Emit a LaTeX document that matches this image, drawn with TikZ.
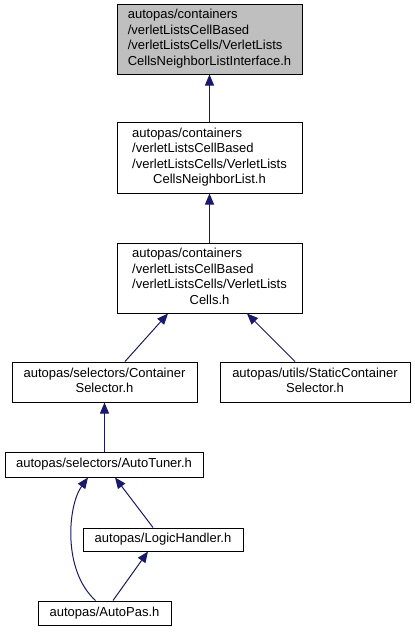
\documentclass[tikz,border=0pt]{standalone}
\usepackage{fontspec}
\setmainfont{Liberation Sans}
\usetikzlibrary{arrows.meta, positioning}
\definecolor{edgeblue}{HTML}{191970}
\definecolor{curgray}{HTML}{BFBFBF}

\begin{document}
\begin{tikzpicture}[x=1pt, y=-1pt,
    file/.style={draw=black, line width=1pt, fill=white, inner sep=0pt, anchor=center,
                 font=\fontsize{13}{15.5}\selectfont},
    dep/.style={draw=edgeblue, line width=1pt, {Triangle[length=11pt, width=9pt]}-}]
\useasboundingbox (0,0) rectangle (415,632);

\node[file, fill=curgray, minimum width=185pt, minimum height=70pt] (iface) at (209.5,39)
    {\begin{tabular}{@{}l@{}}autopas/containers\\/verletListsCellBased\\/verletListsCells/VerletLists\\CellsNeighborListInterface.h\end{tabular}};
\node[file, minimum width=185pt, minimum height=71pt] (nblist) at (209.5,157.5)
    {\begin{tabular}{@{}l@{}}autopas/containers\\/verletListsCellBased\\/verletListsCells/VerletLists\\\multicolumn{1}{@{}c@{}}{CellsNeighborList.h}\end{tabular}};
\node[file, minimum width=185pt, minimum height=70pt] (vlcells) at (209.5,278)
    {\begin{tabular}{@{}l@{}}autopas/containers\\/verletListsCellBased\\/verletListsCells/VerletLists\\\multicolumn{1}{@{}c@{}}{Cells.h}\end{tabular}};
\node[file, minimum width=185pt, minimum height=40pt] (csel) at (104.5,382)
    {\begin{tabular}{@{}l@{}}autopas/selectors/Container\\\multicolumn{1}{@{}c@{}}{Selector.h}\end{tabular}};
\node[file, minimum width=190pt, minimum height=40pt] (scsel) at (315,382)
    {\begin{tabular}{@{}l@{}}autopas/utils/StaticContainer\\\multicolumn{1}{@{}c@{}}{Selector.h}\end{tabular}};
\node[file, minimum width=198pt, minimum height=25pt] (tuner) at (104,464.5) {autopas/selectors/AutoTuner.h};
\node[file, minimum width=160pt, minimum height=23pt] (logic) at (163,539.5) {autopas/LogicHandler.h};
\node[file, minimum width=133pt, minimum height=24pt] (autopas) at (104.5,613) {autopas/AutoPas.h};

\draw[dep] (iface) -- (nblist);
\draw[dep] (nblist) -- (vlcells);
\draw[dep] ([xshift=-41.5pt]vlcells.south) -- ([xshift=20.5pt]csel.north);
\draw[dep] ([xshift=37.5pt]vlcells.south) -- ([xshift=-20pt]scsel.north);
\draw[dep] (csel.south) -- (csel.south |- tuner.north);
\draw[dep] ([xshift=11pt]tuner.south) -- ([xshift=-10pt]logic.north);
\draw[dep] ([xshift=-16pt]tuner.south) .. controls (68,505) and (62,570) .. ([xshift=-9pt]autopas.north);
\draw[dep] ([xshift=-15pt]logic.south) -- ([xshift=8.5pt]autopas.north);
\end{tikzpicture}
\end{document}
